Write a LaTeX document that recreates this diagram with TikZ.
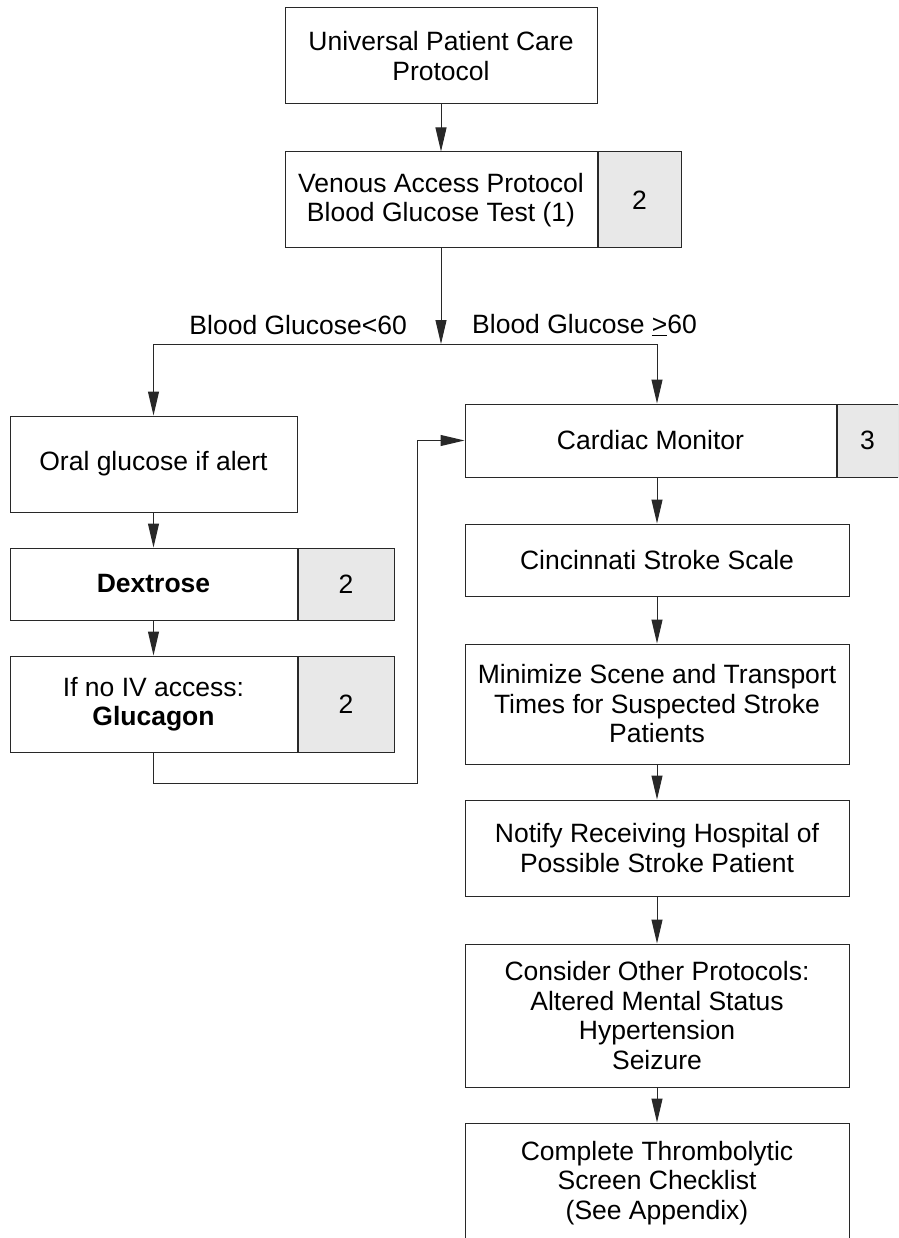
\documentclass[tikz,border=0pt]{standalone}
\usepackage{fontspec}
\setmainfont{Liberation Sans}
\usetikzlibrary{arrows.meta}
\definecolor{numgray}{RGB}{232,232,232}
\definecolor{linegray}{RGB}{40,40,40}
\tikzset{
  box/.style={draw=linegray, line width=1pt, fill=white, inner sep=0pt, align=center,
    font=\fontsize{26.5}{29.5}\selectfont},
  numbox/.style={box, fill=numgray},
  arr/.style={draw=linegray, line width=1pt, -{Triangle[length=24pt,width=11pt]}},
  lbl/.style={inner sep=0pt, font=\fontsize{26.5}{29.5}\selectfont}
}
\begin{document}
\begin{tikzpicture}[x=1pt,y=-1pt]
\useasboundingbox (0,0) rectangle (898,1238);
\clip (0,0) rectangle (898,1238);
% top
\node[box, minimum width=312pt, minimum height=96pt] (upc) at (441,56) {Universal Patient Care\\Protocol};
\node[box, minimum width=312pt, minimum height=96pt] (vap) at (441,200) {Venous Access Protocol\\Blood Glucose Test (1)};
\node[numbox, minimum width=83pt, minimum height=96pt, anchor=west] (vapn) at (vap.east) {2};
% left column
\node[box, minimum width=287pt, minimum height=96pt] (oral) at (153.5,464) {Oral glucose if alert};
\node[box, minimum width=287pt, minimum height=72pt] (dex) at (153.5,584) {\textbf{Dextrose}};
\node[numbox, minimum width=96pt, minimum height=72pt, anchor=west] (dexn) at (dex.east) {2};
\node[box, minimum width=287pt, minimum height=96pt] (glu) at (153.5,704) {If no IV access:\\\textbf{Glucagon}};
\node[numbox, minimum width=96pt, minimum height=96pt, anchor=west] (glun) at (glu.east) {2};
% right column
\node[box, minimum width=371pt, minimum height=73pt] (card) at (650.5,440.5) {Cardiac Monitor};
\node[numbox, minimum width=61pt, minimum height=73pt, anchor=west] (cardn) at (card.east) {3};
\node[box, minimum width=384pt, minimum height=72pt] (cinc) at (657,560) {Cincinnati Stroke Scale};
\node[box, minimum width=384pt, minimum height=120pt] (mini) at (657,704) {Minimize Scene and Transport\\Times for Suspected Stroke\\Patients};
\node[box, minimum width=384pt, minimum height=96pt] (noti) at (657,848) {Notify Receiving Hospital of\\Possible Stroke Patient};
\node[box, minimum width=384pt, minimum height=143pt] (cons) at (657,1015.5) {Consider Other Protocols:\\Altered Mental Status\\Hypertension\\Seizure};
\node[box, minimum width=384pt, minimum height=120pt] (comp) at (657,1183) {Complete Thrombolytic\\Screen Checklist\\(See Appendix)};
% labels
\node[lbl, anchor=east] (lo) at (407,325) {Blood Glucose<60};
\node[lbl, anchor=west] (hi) at (472,325) {Blood Glucose \underline{>}60};
% junctions
\coordinate (j) at (441,344);
\coordinate (loop) at (417,783);
% connectors
\draw[arr] (upc.south) -- (vap.north);
\draw[arr] (vap.south) -- (j);
\draw[arr] (j) -| (oral.north);
\draw[arr] (j) -| (card.north -| cinc.north);
\draw[arr] (oral.south) -- (dex.north);
\draw[arr] (dex.south) -- (glu.north);
\draw[arr] (glu.south) |- (loop) |- (card.west);
\draw[arr] (card.south -| cinc.north) -- (cinc.north);
\draw[arr] (cinc.south) -- (mini.north);
\draw[arr] (mini.south) -- (noti.north);
\draw[arr] (noti.south) -- (cons.north);
\draw[arr] (cons.south) -- (comp.north);
\end{tikzpicture}
\end{document}
